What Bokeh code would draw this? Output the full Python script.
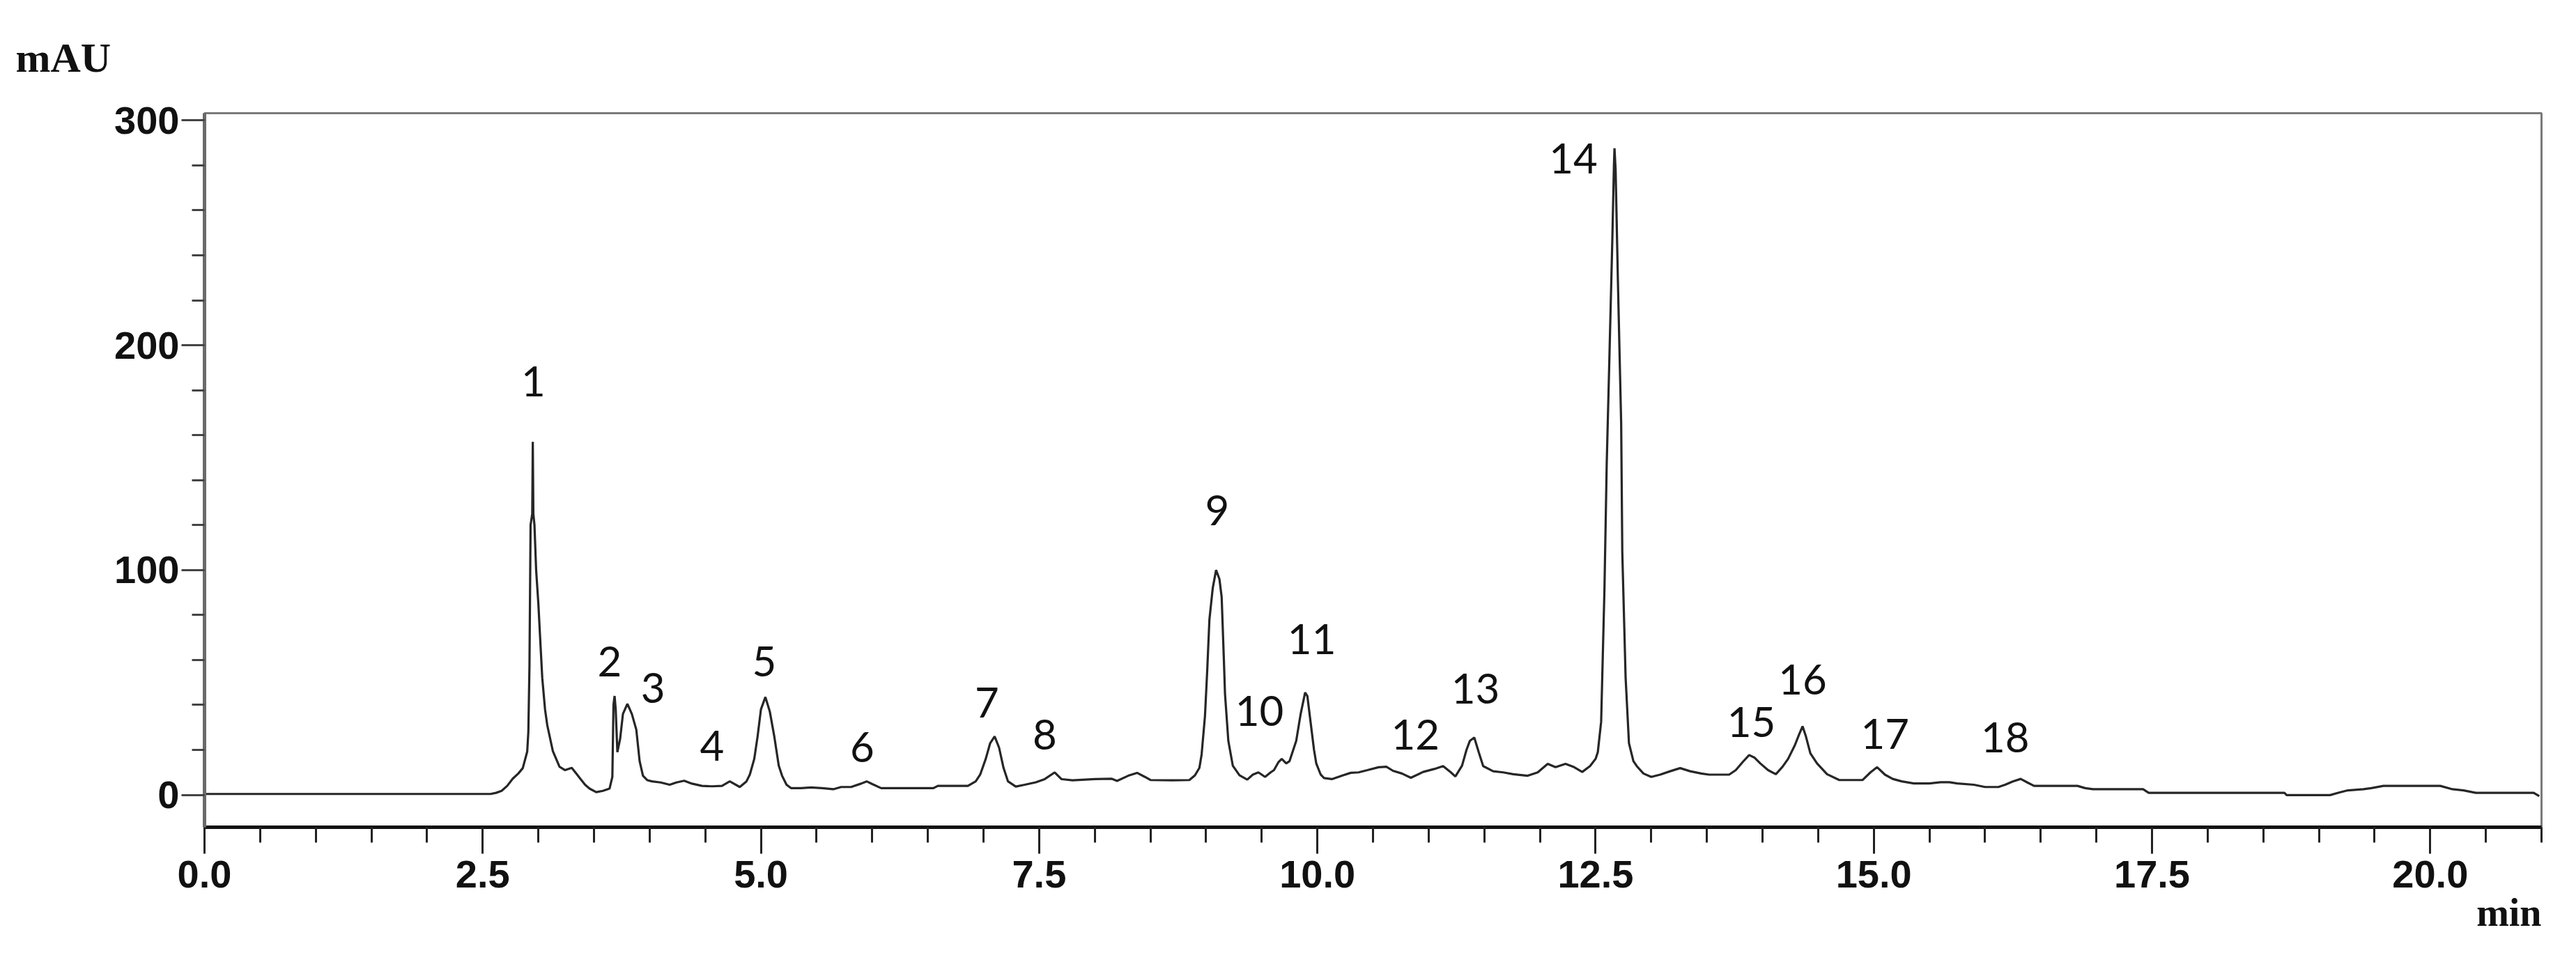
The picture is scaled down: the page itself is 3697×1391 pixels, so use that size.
from bokeh.plotting import figure
from bokeh.models import FixedTicker, Range1d, PrintfTickFormatter, ColumnDataSource, Title
from bokeh.core.properties import value
from bokeh.embed import file_html
from bokeh.resources import INLINE

# ---- data ----
time_min = [
    0.00, 2.57, 2.62, 2.67, 2.72, 2.77, 2.82, 2.86, 2.90, 2.91, 2.92, 2.93, 2.945, 2.95, 2.955,
    2.965, 2.98, 3.00, 3.02, 3.035, 3.06, 3.08, 3.13, 3.19, 3.24, 3.30, 3.34, 3.38, 3.42, 3.46,
    3.52, 3.58, 3.64, 3.665, 3.675, 3.685, 3.695, 3.71, 3.735, 3.76, 3.80, 3.84, 3.88, 3.91, 3.94,
    3.98, 4.02, 4.10, 4.18, 4.24, 4.31, 4.38, 4.47, 4.56, 4.65, 4.72, 4.81, 4.87, 4.90, 4.94,
    4.97, 5.00, 5.04, 5.08, 5.12, 5.16, 5.19, 5.23, 5.27, 5.36, 5.45, 5.55, 5.65, 5.72, 5.81,
    5.90, 5.95, 6.00, 6.08, 6.30, 6.55, 6.59, 6.86, 6.93, 6.97, 7.02, 7.06, 7.10, 7.14, 7.18,
    7.22, 7.29, 7.37, 7.47, 7.55, 7.64, 7.70, 7.80, 8.00, 8.15, 8.20, 8.30, 8.38, 8.45, 8.50,
    8.70, 8.85, 8.90, 8.94, 8.96, 8.99, 9.01, 9.03, 9.06, 9.09, 9.12, 9.14, 9.16, 9.17, 9.20,
    9.24, 9.30, 9.37, 9.42, 9.47, 9.53, 9.58, 9.61, 9.65, 9.68, 9.72, 9.75, 9.81, 9.85, 9.89,
    9.91, 9.94, 9.97, 9.99, 10.03, 10.06, 10.13, 10.23, 10.30, 10.37, 10.45, 10.55, 10.62, 10.68, 10.76,
    10.84, 10.90, 10.95, 11.05, 11.13, 11.20, 11.24, 11.30, 11.34, 11.37, 11.41, 11.45, 11.49, 11.58, 11.67,
    11.76, 11.89, 11.98, 12.07, 12.14, 12.23, 12.30, 12.38, 12.45, 12.50, 12.52, 12.55, 12.58, 12.60, 12.625,
    12.65, 12.665, 12.67, 12.68, 12.70, 12.73, 12.74, 12.77, 12.80, 12.84, 12.87, 12.93, 13.00, 13.08, 13.17,
    13.26, 13.35, 13.45, 13.52, 13.62, 13.70, 13.76, 13.82, 13.88, 13.93, 13.98, 14.05, 14.12, 14.18, 14.23,
    14.29, 14.33, 14.36, 14.39, 14.43, 14.49, 14.58, 14.69, 14.80, 14.90, 14.97, 15.03, 15.10, 15.17, 15.25,
    15.36, 15.50, 15.60, 15.68, 15.75, 15.90, 16.00, 16.12, 16.18, 16.25, 16.32, 16.38, 16.44, 16.60, 16.83,
    16.90, 16.97, 17.42, 17.47, 18.69, 18.71, 19.10, 19.18, 19.26, 19.40, 19.47, 19.58, 20.09, 20.20, 20.30,
    20.41, 20.93, 20.98,
]
absorbance_mau = [
    0.4, 0.4, 0.9, 1.8, 4.0, 7.2, 9.5, 11.9, 19.3, 28.0, 57.0, 120.0, 125.0, 157.0, 125.0,
    120.0, 100.0, 85.0, 66.0, 52.0, 38.0, 31.0, 19.5, 12.5, 11.0, 12.0, 9.5, 7.0, 4.5, 2.8,
    1.2, 1.8, 2.8, 8.0, 40.0, 44.0, 38.0, 19.0, 25.0, 36.0, 40.5, 36.0, 29.0, 15.0, 8.5,
    6.5, 6.0, 5.5, 4.5, 5.5, 6.3, 5.0, 4.0, 3.8, 4.0, 6.0, 3.5, 6.0, 9.0, 16.0,
    26.0, 38.0, 43.5, 37.0, 26.0, 13.0, 8.5, 4.5, 3.0, 3.0, 3.3, 3.0, 2.5, 3.5, 3.5,
    5.0, 6.0, 4.8, 3.0, 3.0, 3.0, 4.0, 4.0, 6.0, 9.0, 16.0, 23.0, 26.0, 21.0, 12.0,
    6.0, 3.7, 4.5, 5.6, 7.0, 10.0, 7.0, 6.5, 7.0, 7.2, 6.2, 8.5, 9.8, 8.0, 6.6,
    6.5, 6.6, 8.7, 12.0, 18.0, 35.0, 55.0, 78.0, 92.0, 100.0, 96.0, 88.0, 60.0, 45.0, 24.0,
    13.0, 8.7, 6.8, 9.0, 10.0, 8.0, 10.0, 11.0, 14.5, 16.0, 14.0, 15.0, 24.0, 36.0, 45.5,
    44.0, 32.0, 20.0, 14.0, 9.0, 7.5, 7.0, 8.7, 9.8, 10.0, 11.0, 12.3, 12.5, 10.7, 9.5,
    7.6, 9.0, 10.2, 11.5, 12.8, 10.0, 8.2, 13.0, 20.0, 24.0, 25.5, 19.0, 12.8, 10.5, 10.0,
    9.2, 8.5, 10.0, 13.8, 12.3, 13.8, 12.5, 10.2, 12.8, 16.0, 19.0, 32.5, 92.0, 147.0, 196.0,
    246.0, 280.0, 287.6, 278.0, 230.0, 165.0, 108.0, 52.0, 23.0, 15.0, 12.8, 9.5, 8.0, 9.0, 10.5,
    11.9, 10.5, 9.5, 9.0, 9.0, 9.0, 11.0, 14.5, 17.7, 16.5, 14.0, 11.0, 9.2, 12.5, 16.0,
    22.0, 27.0, 30.5, 26.0, 18.5, 14.0, 9.2, 6.6, 6.6, 6.6, 10.0, 12.3, 9.0, 7.1, 6.0,
    5.1, 5.1, 5.6, 5.6, 5.1, 4.5, 3.5, 3.5, 4.5, 6.0, 7.1, 5.5, 4.0, 4.0, 4.0,
    3.0, 2.5, 2.5, 0.9, 0.9, -0.1, -0.1, 1.0, 2.0, 2.5, 3.0, 4.0, 4.0, 2.5, 2.0,
    0.9, 0.9, -0.6,
]

peak_names = [str(i) for i in range(1, 19)]
peak_label_time = [2.955, 3.64, 4.03, 4.56, 5.03, 5.91, 7.03, 7.55, 9.10, 9.48, 9.95, 10.88,
                   11.42, 12.30, 13.90, 14.36, 15.10, 16.18]
peak_label_mau = [184.0, 59.5, 47.6, 21.8, 59.3, 21.1, 41.2, 26.7, 126.6, 37.2, 69.2, 26.8,
                  47.4, 283.0, 32.5, 51.4, 27.0, 25.7]

x_major_ticks = [0.0, 2.5, 5.0, 7.5, 10.0, 12.5, 15.0, 17.5, 20.0]
x_minor_ticks = [0.5 * i for i in range(43)]
y_major_ticks = [0, 100, 200, 300]
y_minor_ticks = [20 * i for i in range(16)]
x_limits = (0.0, 21.0)
y_limits = (-14.4, 303.2)
y_unit_label = "mAU"
x_unit_label = "min"

# ---- figure ----
p = figure(width=3681, height=1375,
           x_range=Range1d(*x_limits), y_range=Range1d(*y_limits),
           output_backend="svg", toolbar_location=None,
           min_border_left=293, min_border_right=34,
           min_border_top=162, min_border_bottom=188)
p.grid.visible = False
p.background_fill_color = "white"
p.border_fill_color = "white"
p.outline_line_color = "#7a7a7a"
p.outline_line_width = 3

# unit label above the plot (top-left)
p.title.text = y_unit_label
p.title.align = "left"
p.title.offset = -271
p.title.standoff = 90
p.title.vertical_align = "top"
p.title.text_font = "Liberation Serif"
p.title.text_font_style = "bold"
p.title.text_font_size = "60px"
p.title.text_color = "#111111"

src = ColumnDataSource(dict(t=time_min, v=absorbance_mau))
p.line("t", "v", source=src, line_color="#262626", line_width=3.2)

lab = ColumnDataSource(dict(t=peak_label_time, v=peak_label_mau, name=peak_names))
p.text(x="t", y="v", text="name", source=lab,
       text_font=value("Lato"), text_font_size="60px",
       text_align="center", text_baseline="middle", text_color="#111111")

xa = p.xaxis[0]
xa.ticker = FixedTicker(ticks=x_major_ticks, minor_ticks=x_minor_ticks)
xa.formatter = PrintfTickFormatter(format="%.1f")
xa.axis_line_color = "#111111"
xa.axis_line_width = 5
xa.major_tick_in = 0
xa.major_tick_out = 38
xa.minor_tick_in = 0
xa.minor_tick_out = 22
xa.major_tick_line_color = "#222222"
xa.minor_tick_line_color = "#222222"
xa.major_tick_line_width = 3
xa.minor_tick_line_width = 3
xa.major_label_standoff = 10
xa.major_label_text_font = "Liberation Sans"
xa.major_label_text_font_style = "bold"
xa.major_label_text_font_size = "56px"
xa.major_label_text_color = "#111111"

ya = p.yaxis[0]
ya.ticker = FixedTicker(ticks=y_major_ticks, minor_ticks=y_minor_ticks)
ya.axis_line_color = "#6a6a6a"
ya.axis_line_width = 5
ya.major_tick_in = 0
ya.major_tick_out = 33
ya.minor_tick_in = 0
ya.minor_tick_out = 18
ya.major_tick_line_color = "#444444"
ya.minor_tick_line_color = "#444444"
ya.major_tick_line_width = 3
ya.minor_tick_line_width = 3
ya.major_label_standoff = 3
ya.major_label_text_font = "Liberation Sans"
ya.major_label_text_font_style = "bold"
ya.major_label_text_font_size = "56px"
ya.major_label_text_color = "#111111"

# unit label below the x axis (bottom-right)
p.add_layout(Title(text=x_unit_label, align="right", standoff=0,
                   text_font="Liberation Serif", text_font_style="bold",
                   text_font_size="56px", text_color="#111111"), "below")

open("out.html", "w").write(file_html(p, INLINE))
